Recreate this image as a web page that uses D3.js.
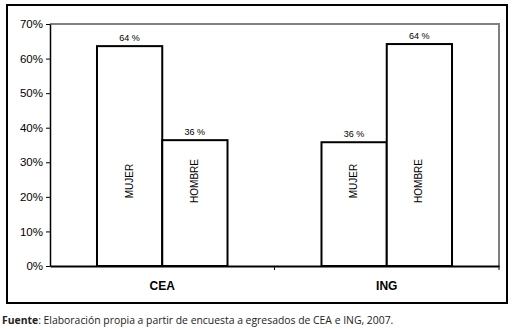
<!DOCTYPE html>
<html>
<head>
<meta charset="utf-8">
<script src="https://cdn.jsdelivr.net/npm/d3@7"></script>
<style>
  body { margin: 0; background: #fff; }
  svg { display: block; }
</style>
</head>
<body>
<script>
// data
const categories = ["CEA", "ING"];
const groups = ["MUJER", "HOMBRE"];
const mujer = [63.6, 35.8];
const hombre = [36.4, 64.2];
const valueLabels = [["64 %", "36 %"], ["36 %", "64 %"]];
const yTicks = [0, 10, 20, 30, 40, 50, 60, 70];

const width = 513, height = 329;
const margin = {top: 24, right: 14, bottom: 63, left: 50};

const svg = d3.select("body").append("svg")
    .attr("width", width)
    .attr("height", height);

// outer frame
svg.append("rect")
    .attr("x", 7).attr("y", 5)
    .attr("width", 500).attr("height", 298)
    .attr("fill", "none")
    .attr("stroke", "#000")
    .attr("stroke-width", 2);

let x = d3.scaleBand()
    .domain(categories)
    .range([margin.left, width - margin.right]);

let xs = d3.scaleBand()
    .domain(groups)
    .range([0, x.bandwidth()])
    .paddingOuter(0.72)
    .paddingInner(0);

let y = d3.scaleLinear()
    .domain([0, 70])
    .range([height - margin.bottom, margin.top]);

// gray plot frame: top and right
svg.append("path")
    .attr("d", `M${margin.left},${y(70)}H${width - margin.right}V${y(0)}`)
    .attr("fill", "none")
    .attr("stroke", "#808080")
    .attr("stroke-width", 2);

// y axis
let yAxis = g => g
    .attr("transform", `translate(${margin.left},0)`)
    .call(d3.axisLeft(y).tickValues(yTicks).tickFormat(d => d + "%").tickSize(4).tickSizeOuter(0))
    .call(g => g.select(".domain").attr("stroke-width", 1.5))
    .call(g => g.selectAll("text")
        .attr("font-family", "Liberation Sans, Arial, sans-serif")
        .attr("font-size", 11.5)
        .attr("fill", "#000"));

// x axis
let xAxis = g => g
    .attr("transform", `translate(0,${y(0)})`)
    .call(d3.axisBottom(x).tickValues([]).tickSizeOuter(0))
    .call(g => g.select(".domain").attr("stroke-width", 2))
    .call(g => g.selectAll(".sep")
        .data([x("ING"), width - margin.right])
        .join("line")
        .attr("class", "sep")
        .attr("x1", d => d).attr("x2", d => d)
        .attr("y1", 0).attr("y2", 4)
        .attr("stroke", "#000"));

const rows = categories.map((c, i) => [
    {cat: c, g: "MUJER", v: mujer[i], label: valueLabels[i][0]},
    {cat: c, g: "HOMBRE", v: hombre[i], label: valueLabels[i][1]}
]).flat();

const bars = svg.append("g")
    .selectAll("g")
    .data(rows)
    .join("g")
    .attr("transform", d => `translate(${x(d.cat) + xs(d.g)},0)`);

bars.append("rect")
    .attr("x", 0)
    .attr("y", d => y(d.v))
    .attr("width", xs.bandwidth())
    .attr("height", d => y(0) - y(d.v))
    .attr("fill", "#fff")
    .attr("stroke", "#000")
    .attr("stroke-width", 2);

bars.append("text")
    .attr("x", xs.bandwidth() / 2)
    .attr("y", d => y(d.v) - 5)
    .attr("text-anchor", "middle")
    .attr("font-family", "Liberation Sans, Arial, sans-serif")
    .attr("font-size", 9)
    .text(d => d.label);

bars.append("text")
    .attr("transform", `translate(${xs.bandwidth() / 2 + 3},181) rotate(-90)`)
    .attr("text-anchor", "middle")
    .attr("font-family", "Liberation Sans, Arial, sans-serif")
    .attr("font-size", 10)
    .text(d => d.g);

svg.append("g").call(yAxis);
svg.append("g").call(xAxis);

// category labels
svg.append("g")
    .selectAll("text")
    .data(categories)
    .join("text")
    .attr("x", d => x(d) + x.bandwidth() / 2)
    .attr("y", 290)
    .attr("text-anchor", "middle")
    .attr("font-family", "Liberation Sans, Arial, sans-serif")
    .attr("font-size", 12)
    .attr("font-weight", "bold")
    .text(d => d);

// source note
const note = svg.append("text")
    .attr("x", 2)
    .attr("y", 324)
    .attr("font-family", "Open Sans, sans-serif")
    .attr("font-size", 10.4)
    .attr("fill", "#222");
note.append("tspan").attr("font-weight", "bold").text("Fuente");
note.append("tspan").text(": Elaboración propia a partir de encuesta a egresados de CEA e ING, 2007.");
</script>
</body>
</html>
